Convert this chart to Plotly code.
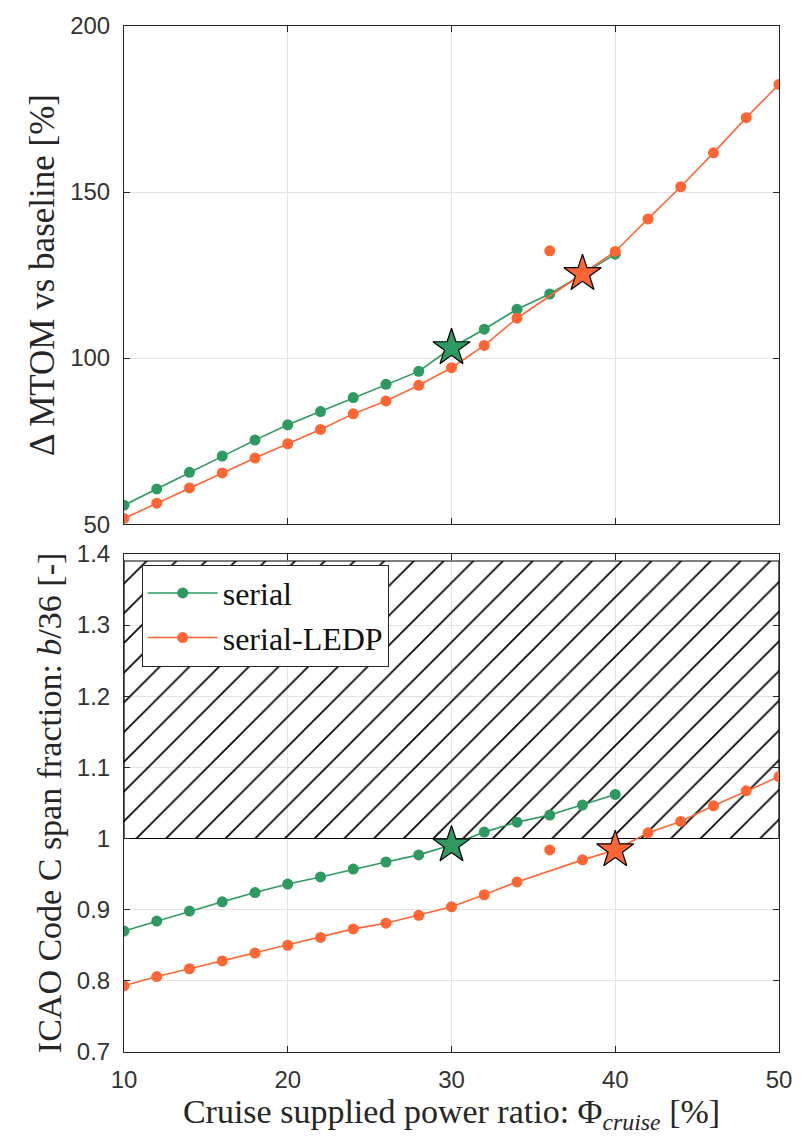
import plotly.graph_objects as go
from plotly.subplots import make_subplots

# Cruise supplied power ratio [%]
phi_serial = [10, 12, 14, 16, 18, 20, 22, 24, 26, 28, 30, 32, 34, 36, 38, 40]
phi_ledp = [10, 12, 14, 16, 18, 20, 22, 24, 26, 28, 30, 32, 34, 38, 40, 42, 44, 46, 48, 50]

# Delta MTOM vs baseline [%]
mtom_serial = [55.7, 60.6, 65.6, 70.5, 75.3, 79.9, 83.9, 88.1, 92.1, 96.0,
               103.1, 108.7, 114.7, 119.3, 125.2, 131.3]
mtom_ledp = [51.7, 56.3, 60.9, 65.4, 69.9, 74.2, 78.5, 83.2, 87.1, 91.8,
             97.1, 103.8, 112.0, 125.4, 132.1, 141.9, 151.6, 161.8, 172.4, 182.4]

# ICAO Code C span fraction b/36 [-]
span_serial = [0.870, 0.884, 0.898, 0.911, 0.924, 0.936, 0.946, 0.957, 0.967, 0.977,
               0.991, 1.009, 1.023, 1.033, 1.047, 1.062]
span_ledp = [0.793, 0.806, 0.817, 0.828, 0.839, 0.850, 0.861, 0.873, 0.881, 0.892,
             0.904, 0.921, 0.939, 0.970, 0.984, 1.008, 1.024, 1.046, 1.067, 1.087]

# Isolated serial-LEDP design point
phi_ledp_off = [36]
mtom_ledp_off = [132.3]
span_ledp_off = [0.984]

# Selected designs (stars)
phi_star_serial = [30]
mtom_star_serial = [103.1]
span_star_serial = [0.991]
phi_star_ledp_top = [38]
mtom_star_ledp = [125.4]
phi_star_ledp_bot = [40]
span_star_ledp = [0.984]

# Code C span limit region
limit_x = [10, 50, 50, 10, 10]
limit_y = [1.0, 1.0, 1.39, 1.39, 1.0]

GREEN = "#2E9960"
ORANGE = "#FF6633"
AX = "#262626"
TICK = "#333333"
GRID = "#E4E4E4"
SERIF = "Liberation Serif"
SANS = "Liberation Sans"
MS = 11
STAR = 28

fig = make_subplots(rows=2, cols=1, vertical_spacing=0.0)

# ---- upper panel: MTOM ----
fig.add_trace(go.Scatter(x=phi_serial, y=mtom_serial, mode="lines+markers",
                         line=dict(color=GREEN, width=1.6),
                         marker=dict(color=GREEN, size=MS),
                         showlegend=False), row=1, col=1)
fig.add_trace(go.Scatter(x=phi_ledp, y=mtom_ledp, mode="lines+markers",
                         line=dict(color=ORANGE, width=1.6),
                         marker=dict(color=ORANGE, size=MS),
                         showlegend=False), row=1, col=1)
fig.add_trace(go.Scatter(x=phi_ledp_off, y=mtom_ledp_off, mode="markers",
                         marker=dict(color=ORANGE, size=MS),
                         showlegend=False), row=1, col=1)
fig.add_trace(go.Scatter(x=phi_star_serial, y=mtom_star_serial, mode="markers",
                         marker=dict(symbol="star", color=GREEN, size=STAR,
                                     line=dict(color="black", width=1.2)),
                         showlegend=False), row=1, col=1)
fig.add_trace(go.Scatter(x=phi_star_ledp_top, y=mtom_star_ledp, mode="markers",
                         marker=dict(symbol="star", color=ORANGE, size=STAR,
                                     line=dict(color="black", width=1.2)),
                         showlegend=False), row=1, col=1)

# ---- lower panel: span fraction ----
fig.add_trace(go.Scatter(x=limit_x, y=limit_y, mode="lines", fill="toself",
                         fillcolor="rgba(0,0,0,0)",
                         fillpattern=dict(shape="/", fgcolor="black", fgopacity=1,
                                          bgcolor="rgba(0,0,0,0)",
                                          size=21, solidity=0.08),
                         line=dict(color="black", width=1.2),
                         hoverinfo="skip", showlegend=False), row=2, col=1)
fig.add_trace(go.Scatter(x=phi_serial, y=span_serial, mode="lines+markers",
                         name="serial",
                         line=dict(color=GREEN, width=1.6),
                         marker=dict(color=GREEN, size=MS)), row=2, col=1)
fig.add_trace(go.Scatter(x=phi_ledp, y=span_ledp, mode="lines+markers",
                         name="serial-LEDP",
                         line=dict(color=ORANGE, width=1.6),
                         marker=dict(color=ORANGE, size=MS)), row=2, col=1)
fig.add_trace(go.Scatter(x=phi_ledp_off, y=span_ledp_off, mode="markers",
                         marker=dict(color=ORANGE, size=MS),
                         showlegend=False), row=2, col=1)
fig.add_trace(go.Scatter(x=phi_star_serial, y=span_star_serial, mode="markers",
                         marker=dict(symbol="star", color=GREEN, size=STAR,
                                     line=dict(color="black", width=1.2)),
                         showlegend=False), row=2, col=1)
fig.add_trace(go.Scatter(x=phi_star_ledp_bot, y=span_star_ledp, mode="markers",
                         marker=dict(symbol="star", color=ORANGE, size=STAR,
                                     line=dict(color="black", width=1.2)),
                         showlegend=False), row=2, col=1)

axis_common = dict(showline=True, linecolor=AX, linewidth=1, mirror="ticks",
                   ticks="inside", ticklen=6, tickcolor=AX,
                   showgrid=True, gridcolor=GRID, gridwidth=1, zeroline=False,
                   tickfont=dict(family=SANS, size=24, color=TICK))

fig.update_xaxes(range=[10, 50], tickvals=[10, 20, 30, 40, 50],
                 ticklabelstandoff=6, **axis_common)
fig.update_xaxes(showticklabels=False, row=1, col=1)
fig.update_xaxes(title=dict(text="Cruise supplied power ratio: Φ<sub><i>cruise</i></sub> [%]",
                            font=dict(family=SERIF, size=34, color=AX), standoff=2),
                 row=2, col=1)
fig.update_yaxes(ticklabelstandoff=8, **axis_common)
fig.update_yaxes(range=[50, 200], tickvals=[50, 100, 150, 200],
                 title=dict(text="Δ MTOM vs baseline [%]",
                            font=dict(family=SERIF, size=35, color=AX), standoff=4),
                 row=1, col=1)
fig.update_yaxes(range=[0.7, 1.4], tickvals=[0.7, 0.8, 0.9, 1.0, 1.1, 1.2, 1.3, 1.4],
                 ticktext=["0.7", "0.8", "0.9", "1", "1.1", "1.2", "1.3", "1.4"],
                 title=dict(text="ICAO Code C span fraction: <i>b</i>/36 [-]",
                            font=dict(family=SERIF, size=34, color=AX), standoff=4),
                 row=2, col=1)

fig.update_layout(
    width=804, height=1138,
    margin=dict(l=124, r=23, t=16, b=86),
    plot_bgcolor="white", paper_bgcolor="white",
    yaxis=dict(domain=[0.5145, 1.0]),
    yaxis2=dict(domain=[0.0, 0.4855]),
    legend=dict(x=0.027, y=0.475, xanchor="left", yanchor="top",
                bgcolor="white", bordercolor=AX, borderwidth=1,
                font=dict(family=SERIF, size=32, color="#111111"),
                itemwidth=70, tracegroupgap=0),
)

fig.write_html("out.html")
